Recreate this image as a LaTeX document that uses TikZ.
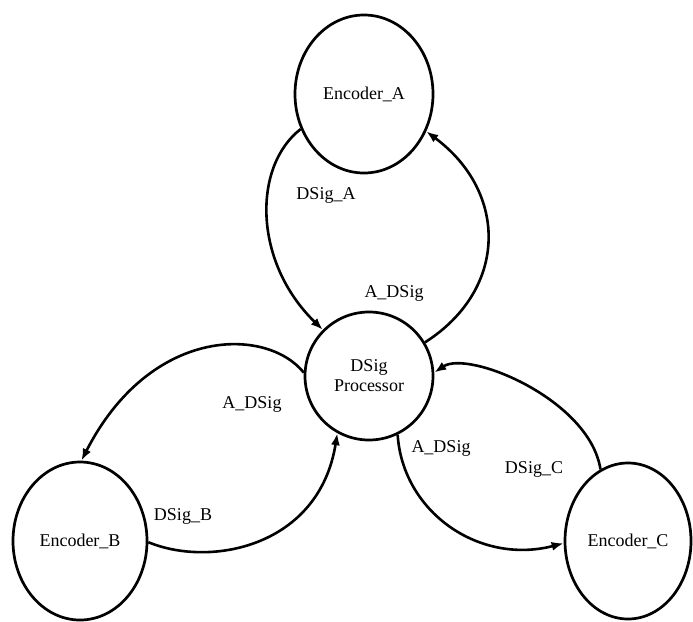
\documentclass[tikz,border=0pt]{standalone}
\usepackage{fontspec}
\setmainfont{Liberation Serif}
\usetikzlibrary{arrows.meta, shapes.geometric}

\begin{document}
\begin{tikzpicture}[x=1pt, y=-1pt,
    encoder/.style={draw, ellipse, line width=2.7pt, inner sep=0pt},
    flow/.style={-{Latex[length=12pt,width=9pt]}, line width=2.6pt},
    every node/.style={font=\fontsize{18}{20}\selectfont}]
    \useasboundingbox (0,0) rectangle (693,621);

    % Processor in the middle
    \node[draw, circle, line width=2.7pt, minimum size=128pt, inner sep=0pt, align=center] (proc) at (369,376) {DSig\\Processor};

    % Encoders round it
    \node[encoder, minimum width=138pt, minimum height=158pt] (encA) at (364,94) {Encoder\_A};
    \node[encoder, minimum width=134pt, minimum height=158pt] (encB) at (80,541) {Encoder\_B};
    \node[encoder, minimum width=126pt, minimum height=156pt] (encC) at (628,541) {Encoder\_C};

    % Encoder A <-> processor
    \draw[flow] (encA.209) .. controls +(-48,37) and +(-70,-68) .. (proc.135);
    \draw[flow] (proc.31) .. controls +(83,-53) and +(82,61) .. (encA.329);

    % Encoder B <-> processor
    \draw[flow] (proc.177) .. controls +(-37,-46) and +(69,-135) .. (encB.89);
    \draw[flow] (encB.359) .. controls +(63,26) and +(-18,113) .. (proc.241);

    % Encoder C <-> processor
    \draw[flow] (proc.296) .. controls +(5,77) and +(-85,22) .. (encC.182);
    \draw[flow] (encC.111) .. controls +(-11,-70) and +(34,-23) .. (proc.3);

    % Signal labels
    \node (sigA) at (326,195) {DSig\_A};
    \node (toA) at (394,293) {A\_DSig};
    \node (toB) at (252,404) {A\_DSig};
    \node (sigB) at (183,516) {DSig\_B};
    \node (toC) at (441,448) {A\_DSig};
    \node (sigC) at (534,469) {DSig\_C};
\end{tikzpicture}
\end{document}
